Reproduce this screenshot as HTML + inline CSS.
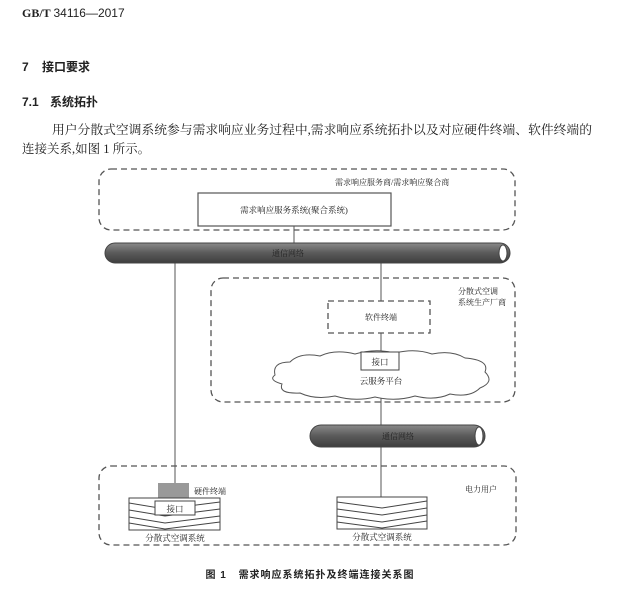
<!DOCTYPE html>
<html><head><meta charset="utf-8"><style>
html,body{margin:0;padding:0;background:#fff;}
body{width:636px;height:598px;overflow:hidden;}
svg text{font-family:"Liberation Serif","Noto Serif CJK SC",serif;fill:#222;}
.s{font-family:"Liberation Sans","Noto Sans CJK SC",sans-serif;}
</style></head><body>
<svg width="636" height="598" viewBox="0 0 636 598" xmlns="http://www.w3.org/2000/svg">
<defs>
<linearGradient id="pg" x1="0" y1="0" x2="0" y2="1">
<stop offset="0" stop-color="#8a8a8a"/><stop offset="0.5" stop-color="#5a5a5a"/><stop offset="1" stop-color="#3e3e3e"/>
</linearGradient>
</defs>
<text x="22" y="17" font-size="12" font-weight="bold">GB/T <tspan font-weight="normal" class="s">34116—2017</tspan></text>
<text x="22" y="71" font-size="12" class="s" font-weight="bold">7 <tspan dx="10">接口要求</tspan></text>
<text x="22" y="106" font-size="12" class="s" font-weight="bold">7.1 <tspan dx="8">系统拓扑</tspan></text>
<text x="52" y="134" font-size="12.5" textLength="540" lengthAdjust="spacingAndGlyphs">用户分散式空调系统参与需求响应业务过程中,需求响应系统拓扑以及对应硬件终端、软件终端的</text>
<text x="22" y="153" font-size="12.5">连接关系,如图 1 所示。</text>

<g fill="none" stroke="#555" stroke-width="1.3" stroke-dasharray="6,4">
<rect x="99" y="169" width="416" height="61" rx="12"/>
<rect x="211" y="278" width="304" height="124" rx="12"/>
<rect x="328" y="301" width="102" height="32"/>
<rect x="99" y="466" width="417" height="79" rx="12"/>
</g>
<text x="335" y="185" font-size="8">需求响应服务商/需求响应聚合商</text>
<rect x="198" y="193" width="193" height="33" fill="#fff" stroke="#555" stroke-width="1.2"/>
<text x="294" y="213" font-size="8.5" text-anchor="middle">需求响应服务系统(聚合系统)</text>

<g stroke="#555" stroke-width="1">
<line x1="294" y1="226" x2="294" y2="244"/>
<line x1="175" y1="262" x2="175" y2="483"/>
<line x1="381" y1="262" x2="381" y2="301"/>
<line x1="381" y1="333" x2="381" y2="352"/>
<line x1="381" y1="396" x2="381" y2="426"/>
<line x1="381" y1="446" x2="381" y2="497"/>
</g>

<rect x="105" y="243" width="405" height="20" rx="10" fill="url(#pg)" stroke="#444"/>
<ellipse cx="503" cy="253" rx="4" ry="8" fill="#fff" stroke="#444"/>
<text x="288" y="256" font-size="8" text-anchor="middle">通信网络</text>

<text x="458" y="294" font-size="8">分散式空调</text>
<text x="458" y="305" font-size="8">系统生产厂商</text>
<text x="381" y="320" font-size="8" text-anchor="middle">软件终端</text>

<path d="M275 375 Q272 362 290 362 Q300 352 320 356 Q335 349 355 354 Q375 348 395 353 Q415 348 432 354 Q452 350 465 358 Q490 360 485 372 Q495 382 480 388 Q470 398 450 394 Q435 401 415 396 Q395 402 375 397 Q355 402 335 396 Q315 400 300 393 Q278 394 282 384 Q268 380 275 375Z" fill="#fff" stroke="#555" stroke-width="1"/>
<rect x="361" y="352" width="38" height="18" fill="#fff" stroke="#444"/>
<text x="380" y="365" font-size="8.5" text-anchor="middle">接口</text>
<text x="381" y="384" font-size="8.5" text-anchor="middle">云服务平台</text>

<rect x="310" y="425" width="175" height="22" rx="11" fill="url(#pg)" stroke="#444"/>
<ellipse cx="479" cy="436" rx="4" ry="9" fill="#fff" stroke="#444"/>
<text x="398" y="439" font-size="8" text-anchor="middle">通信网络</text>

<text x="465" y="492" font-size="8">电力用户</text>
<rect x="158" y="483" width="31" height="15" fill="#999"/>
<text x="194" y="494" font-size="8">硬件终端</text>

<g fill="#fff" stroke="#444" stroke-width="1">
<rect x="129" y="498" width="91" height="32"/>
<rect x="337" y="497" width="90" height="32"/>
</g>
<g fill="none" stroke="#444" stroke-width="0.9">
<polyline points="129,503 165,509 220,502"/>
<polyline points="129,510 165,516 220,509"/>
<polyline points="129,517 165,523 220,516"/>
<polyline points="129,523 165,529 220,522"/>
<polyline points="337,502 382,508 427,501"/>
<polyline points="337,509 382,515 427,508"/>
<polyline points="337,516 382,522 427,515"/>
<polyline points="337,522 382,528 427,521"/>
</g>
<rect x="155" y="501" width="40" height="14" fill="#fff" stroke="#444"/>
<text x="175" y="512" font-size="8.5" text-anchor="middle">接口</text>
<text x="175" y="541" font-size="8.5" text-anchor="middle">分散式空调系统</text>
<text x="382" y="540" font-size="8.5" text-anchor="middle">分散式空调系统</text>

<text x="310" y="578" font-size="10" class="s" font-weight="bold" text-anchor="middle" letter-spacing="1">图 1 <tspan dx="8">需求响应系统拓扑及终端连接关系图</tspan></text>
</svg>
</body></html>
